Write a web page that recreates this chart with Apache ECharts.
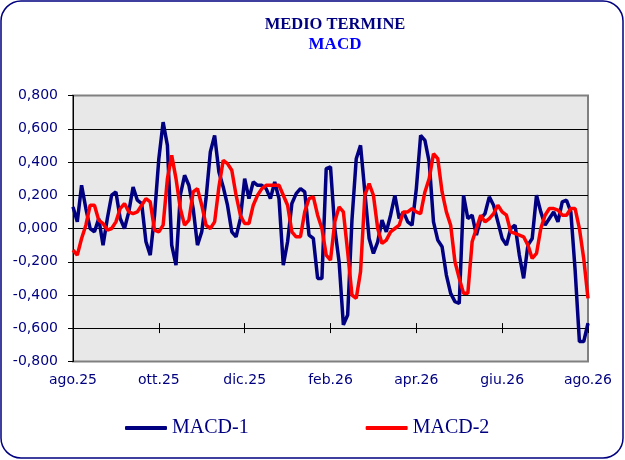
<!DOCTYPE html>
<html>
<head>
<meta charset="utf-8">
<title>MEDIO TERMINE - MACD</title>
<script src="https://cdn.jsdelivr.net/npm/echarts@6/dist/echarts.min.js"></script>
<style>
    html, body { margin: 0; padding: 0; background: #fff; }
    #main { width: 625px; height: 460px; }
</style>
</head>
<body>
<div id="main"></div>
<script>
// etichette dell'asse x (una ogni due mesi) e posizione nella serie
var tickLabels = ['ago.25', 'ott.25', 'dic.25', 'feb.26', 'apr.26', 'giu.26', 'ago.26'];
var tickIndex = [0, 20, 40, 60, 80, 100, 120];

// MACD-1 (blu)
var macd1 = [
    0.13, 0.04, 0.26, 0.12, 0.00, -0.02, 0.06, -0.10, 0.06, 0.20,
    0.22, 0.06, 0.00, 0.10, 0.25, 0.17, 0.15, -0.08, -0.16, 0.08,
    0.42, 0.64, 0.50, -0.10, -0.22, 0.20, 0.32, 0.26, 0.12, -0.10,
    -0.02, 0.18, 0.46, 0.56, 0.34, 0.25, 0.14, -0.02, -0.05, 0.06,
    0.30, 0.18, 0.28, 0.26, 0.26, 0.24, 0.18, 0.28, 0.18, -0.22,
    -0.08, 0.15, 0.21, 0.24, 0.22, -0.04, -0.06, -0.30, -0.30, 0.36,
    0.37, 0.00, -0.20, -0.58, -0.52, 0.05, 0.42, 0.50, 0.22, -0.06,
    -0.15, -0.08, 0.05, -0.02, 0.08, 0.20, 0.06, 0.10, 0.04, 0.02,
    0.24, 0.56, 0.53, 0.40, 0.04, -0.07, -0.11, -0.28, -0.39, -0.44,
    -0.45, 0.20, 0.06, 0.08, -0.04, 0.06, 0.09, 0.19, 0.14, 0.04,
    -0.06, -0.10, 0.00, 0.02, -0.16, -0.30, -0.10, -0.06, 0.20, 0.10,
    0.02, 0.06, 0.10, 0.04, 0.16, 0.17, 0.10, -0.25, -0.68, -0.68,
    -0.57
];

// MACD-2 (rosso)
var macd2 = [
    -0.13, -0.16, -0.06, 0.02, 0.14, 0.14, 0.05, 0.03, -0.01, 0.00,
    0.04, 0.12, 0.15, 0.10, 0.09, 0.10, 0.14, 0.18, 0.16, -0.01,
    -0.02, 0.02, 0.30, 0.44, 0.30, 0.12, 0.02, 0.05, 0.22, 0.24,
    0.14, 0.02, 0.00, 0.04, 0.25, 0.41, 0.39, 0.35, 0.20, 0.08,
    0.03, 0.03, 0.14, 0.20, 0.24, 0.26, 0.26, 0.26, 0.26, 0.20,
    0.14, -0.02, -0.05, -0.05, 0.10, 0.18, 0.19, 0.08, 0.00, -0.16,
    -0.19, 0.04, 0.13, 0.10, -0.14, -0.40, -0.42, -0.26, 0.20, 0.27,
    0.20, 0.00, -0.09, -0.07, -0.02, 0.00, 0.02, 0.10, 0.10, 0.12,
    0.10, 0.09, 0.22, 0.30, 0.45, 0.42, 0.22, 0.10, 0.02, -0.20,
    -0.30, -0.39, -0.39, -0.08, 0.00, 0.08, 0.04, 0.06, 0.09, 0.14,
    0.10, 0.08, -0.02, -0.03, -0.04, -0.05, -0.10, -0.18, -0.15, 0.00,
    0.08, 0.12, 0.12, 0.11, 0.08, 0.08, 0.12, 0.12, 0.00, -0.18,
    -0.42
];

// date della serie (una ogni 3 giorni dal 1/8/2025)
var dates = [];
for (var i = 0; i < macd1.length; i++) {
    var d = new Date(2025, 7, 1 + i * 3);
    dates.push(d.getDate() + '/' + (d.getMonth() + 1) + '/' + d.getFullYear());
}

var NAVY = '#000080';
var AXIS_FONT = 'DejaVu Sans';
var SERIF = '"Liberation Serif", serif';

function isTick(index) {
    return tickIndex.indexOf(index) >= 0;
}

var chart = echarts.init(document.getElementById('main'));
var option = {
    animation: false,
    graphic: [
        {
            type: 'rect',
            shape: { x: 1, y: 1, width: 622, height: 457, r: 20 },
            style: { fill: 'none', stroke: NAVY, lineWidth: 1.5 }
        },
        {
            type: 'text',
            x: 335, y: 25,
            style: {
                text: 'MEDIO TERMINE', fill: NAVY,
                font: 'bold 16.5px "Liberation Serif"',
                textAlign: 'center', textVerticalAlign: 'middle'
            }
        },
        {
            type: 'text',
            x: 335, y: 45,
            style: {
                text: 'MACD', fill: '#0000FF',
                font: 'bold 17px "Liberation Serif"',
                textAlign: 'center', textVerticalAlign: 'middle'
            }
        }
    ],
    legend: {
        left: 125,
        top: 418,
        padding: 0,
        itemGap: 117,
        itemWidth: 42,
        itemHeight: 4,
        icon: 'roundRect',
        textStyle: { fontFamily: SERIF, fontSize: 20, color: NAVY },
        data: ['MACD-1', 'MACD-2']
    },
    grid: {
        left: 73,
        top: 95.5,
        width: 515,
        height: 266,
        show: true,
        backgroundColor: '#E8E8E8',
        borderColor: '#808080',
        borderWidth: 2
    },
    xAxis: [
        {
            type: 'category',
            data: dates,
            boundaryGap: false,
            axisLine: { show: false },
            axisTick: { show: false },
            splitLine: { show: false },
            axisLabel: {
                interval: function(index) { return isTick(index); },
                formatter: function(value, index) { return tickLabels[tickIndex.indexOf(index)]; },
                color: NAVY,
                fontFamily: AXIS_FONT,
                fontSize: 14,
                margin: 12
            }
        },
        {
            // trattini sull'asse che incrocia a -0,600
            type: 'category',
            data: dates,
            boundaryGap: false,
            position: 'bottom',
            offset: -38.4,
            axisLine: { show: false },
            axisLabel: { show: false },
            splitLine: { show: false },
            axisTick: {
                show: true,
                interval: function(index) { return isTick(index); },
                length: 10,
                lineStyle: { color: '#000', width: 1 }
            }
        }
    ],
    yAxis: {
        type: 'value',
        min: -0.8,
        max: 0.8,
        interval: 0.2,
        axisLine: { show: true, lineStyle: { color: '#000', width: 1 } },
        axisTick: { show: true, length: 5, lineStyle: { color: '#000' } },
        axisLabel: {
            formatter: function(v) { return v.toFixed(3).replace('.', ','); },
            color: NAVY,
            fontFamily: AXIS_FONT,
            fontSize: 14,
            margin: 15
        },
        splitLine: {
            show: true,
            lineStyle: {
                color: ['#808080', '#000', '#000', '#000', '#000', '#000', '#000', '#000', '#808080'],
                width: 1
            }
        }
    },
    series: [
        {
            name: 'MACD-1',
            type: 'line',
            data: macd1,
            showSymbol: false,
            color: NAVY,
            lineStyle: { color: NAVY, width: 3.5 }
        },
        {
            name: 'MACD-2',
            type: 'line',
            data: macd2,
            showSymbol: false,
            color: '#FF0000',
            lineStyle: { color: '#FF0000', width: 3.5 }
        }
    ]
};
chart.setOption(option);
</script>
</body>
</html>
